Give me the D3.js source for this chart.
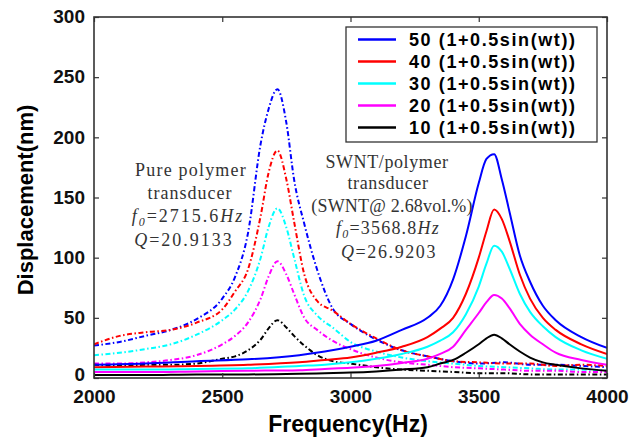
<!DOCTYPE html>
<html>
<head>
<meta charset="utf-8">
<script src="https://cdn.jsdelivr.net/npm/d3@7"></script>
<style>
body{margin:0;background:#fff}
text{font-family:"Liberation Sans",Arial,sans-serif}
.note{font-family:"Liberation Serif","Times New Roman",serif;fill:#333;font-size:18px}
</style>
</head>
<body>
<svg id="canvas"></svg>
<script>
let width=633, height=437

// frequency grids (Hz)
const freqPure = [2000,2100,2200,2300,2400,2500,2550,2600,2650,2680,2715,2750,2780,2820,2870,2930,3000,3100,3200,3300,3400,3500,3600,3700,3800,3900,4000]
const freqSwnt = [2000,2200,2400,2600,2800,2900,3000,3100,3200,3300,3350,3400,3450,3500,3530,3560,3590,3620,3660,3700,3750,3800,3900,4000]

// pure polymer transducer (dash-dot), displacement in nm
const pure50 = [27,30,35,40,49,66,84,120,195,223,240,212,165,128,90,58,45,32,23,18,14,12,13,11,11,10,9]
const pure40 = [28,35,38,40,46,57,72,90,135,170,189,165,130,86,64,56,45,33,23,18,14,13,12,12,10,11,10]
const pure30 = [19,21,24,28,36,48,57,72,100,125,141,125,100,68,52,42,30,22,17,14,12,10,9,8,7,7,6]
const pure20 = [12,12,13,15,19,28,35,46,66,84,97,86,70,50,40,31,24,17,13,11,9,8,7,6,6,5,5]
const pure10 = [11,10,11,11,12,16,18,23,32,41,48,42,35,27,19,14,12,9,7,6,5,4,4,3,3,3,3]

// SWNT/polymer transducer (solid)
const swnt50 = [11,12,14,15.5,19,22,26,31,40,50,60,82,118,162,182,186,165,138,102,80,60,48,34,25]
const swnt40 = [9,9.5,10,11,13,15,17,21,26,34,41,50,70,100,122,140,132,114,86,66,50,40,28,20]
const swnt30 = [7,7,7.5,8,10,11,13,16,20,26,31,38,53,76,95,110,105,91,70,55,43,34,23,16]
const swnt20 = [5,5,5.5,6,6.5,7.5,8.5,10,12.5,16,20,26,40,54,63,69,66,58,45,36,28,21,15,11]
const swnt10 = [2.5,2.5,3,3,3.5,4,4.5,5.5,7,9,12,15,21,28,33,36,33,28,22,17,13,11,8,6]

const legendLabels = ["50 (1+0.5sin(wt))","40 (1+0.5sin(wt))","30 (1+0.5sin(wt))","20 (1+0.5sin(wt))","10 (1+0.5sin(wt))"]
const colors = ["#0000ff","#ff0000","#00ffff","#ff00ff","#000000"]
const xTicks = [2000,2500,3000,3500,4000]
const yTicks = [0,50,100,150,200,250,300]

let svg = d3.select('#canvas').attr("width",width).attr("height",height)

let x = d3.scaleLinear().domain([2000,4000]).range([94,607])
let y = d3.scaleLinear().domain([0,300]).range([378,17])

let line = d3.line().x(d=>x(d[0])).y(d=>y(d[1])).curve(d3.curveMonotoneX)

let pureSeries = [pure50,pure40,pure30,pure20,pure10]
let swntSeries = [swnt50,swnt40,swnt30,swnt20,swnt10]

svg.append("clipPath").attr("id","clip").append("rect")
  .attr("x",94).attr("y",17).attr("width",513).attr("height",361)

let plot = svg.append("g").attr("clip-path","url(#clip)")

plot.selectAll(".pure").data(pureSeries).enter().append("path")
  .attr("d", (s)=>line(freqPure.map((f,i)=>[f,s[i]])))
  .style("fill","none").style("stroke",(d,i)=>colors[i])
  .style("stroke-width",2).style("stroke-dasharray","5,2.5,1.5,2.5")

plot.selectAll(".swnt").data(swntSeries).enter().append("path")
  .attr("d", (s)=>line(freqSwnt.map((f,i)=>[f,s[i]])))
  .style("fill","none").style("stroke",(d,i)=>colors[i])
  .style("stroke-width",2)

// frame + inward ticks on all sides
svg.append("rect").attr("x",94).attr("y",17).attr("width",513).attr("height",361)
  .style("fill","none").style("stroke","#333").style("stroke-width",1.6)

let axB = svg.append("g").attr("transform","translate(0,378)")
  .call(d3.axisBottom(x).tickValues(xTicks).tickFormat(d3.format("d")).tickSizeInner(-5).tickSizeOuter(0).tickPadding(12))
let axT = svg.append("g").attr("transform","translate(0,17)")
  .call(d3.axisTop(x).tickValues(xTicks).tickSizeInner(-5).tickSizeOuter(0).tickFormat(""))
let axL = svg.append("g").attr("transform","translate(94,0)")
  .call(d3.axisLeft(y).tickValues(yTicks).tickSizeInner(-5).tickSizeOuter(0).tickPadding(9))
let axR = svg.append("g").attr("transform","translate(607,0)")
  .call(d3.axisRight(y).tickValues(yTicks).tickSizeInner(-5).tickSizeOuter(0).tickFormat(""))

svg.selectAll(".domain").remove()
svg.selectAll(".tick line").style("stroke","#333").style("stroke-width",1.2)
svg.selectAll(".tick text").style("font-size","19px").style("font-weight","bold").style("fill","#111")
axL.selectAll(".tick text").attr("dy",d=>d==0?"0.15em":"0.3em")

svg.append("text").attr("transform","translate(33,200) rotate(-90)")
  .attr("text-anchor","middle").style("font-size","22px").style("font-weight","bold")
  .text("Displacement(nm)")
svg.append("text").attr("x",348).attr("y",432)
  .attr("text-anchor","middle").style("font-size","23px").style("font-weight","bold")
  .text("Frequency(Hz)")

// legend
let leg = svg.append("g")
leg.append("rect").attr("x",346).attr("y",27).attr("width",251).attr("height",115)
  .style("fill","#fff").style("stroke","#333").style("stroke-width",1.3)
legendLabels.forEach((l,i)=>{
  let yy = 39.5 + i*22
  leg.append("line").attr("x1",358).attr("x2",396).attr("y1",yy).attr("y2",yy)
    .style("stroke",colors[i]).style("stroke-width",2.5)
  leg.append("text").attr("x",409).attr("y",yy+6.5)
    .attr("textLength",166).attr("lengthAdjust","spacing")
    .style("font-size","18px").style("font-weight","bold").text(l)
})

// annotations
function note(cx, cy, parts, ls){
  let t = svg.append("text").attr("class","note").attr("x",cx).attr("y",cy)
    .attr("text-anchor","middle").style("letter-spacing",(ls||0.6)+"px")
  parts.forEach(p=>{
    let s = t.append("tspan").text(p.t)
    if(p.i) s.style("font-style","italic")
    if(p.sub) s.attr("dy",4).style("font-size","12px")
    if(p.up) s.attr("dy",-4)
  })
}
note(191,176,[{t:"Pure polymer"}],1.2)
note(190,199,[{t:"transducer"}],1)
note(188,222,[{t:"f",i:1},{t:"0",i:1,sub:1},{t:"=2715.6",up:1},{t:"Hz",i:1}],2)
note(184,246,[{t:"Q",i:1},{t:"=20.9133"}],2)

note(387,168,[{t:"SWNT/polymer"}],0.6)
note(388,189,[{t:"transducer"}],0.6)
note(392,212,[{t:"(SWNT@ 2.68vol.%)"}],0.2)
note(388,234,[{t:"f",i:1},{t:"0",i:1,sub:1},{t:"=3568.8",up:1},{t:"Hz",i:1}],1.2)
note(389,258,[{t:"Q",i:1},{t:"=26.9203"}],1.6)
</script>
</body>
</html>
